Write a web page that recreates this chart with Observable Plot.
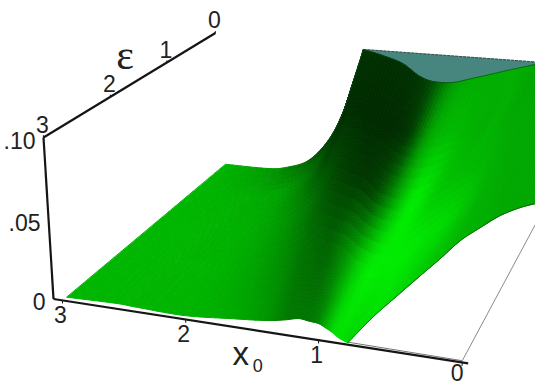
<!DOCTYPE html>
<html>
<head>
<meta charset="utf-8">
<style>html,body{margin:0;padding:0;background:#fff}svg{display:block}</style>
<script src="https://cdn.jsdelivr.net/npm/d3@7"></script>
<script src="https://cdn.jsdelivr.net/npm/@observablehq/plot@0.6"></script>
</head>
<body>
<div id="chart"></div>
<script>
// Tick values
const x0Ticks = [3, 2, 1, 0];
const epsTicks = [3, 2, 1, 0];
const zTicks = [0.10, 0.05, 0];
const zTickLabels = [".10", ".05", "0"];

// Upper boundary of the surface: eps = 0 edge, then the contour where it reaches the cap
const upperX0 = [3, 2.58, 2.40, 2.18, 1.99, 1.856, 1.756, 1.667, 1.45, 1.216, .992, .84, .68, .555, .393, .31, .23, .154, .12, .08, .05, .03, .01];
const upperEps = [0, 0, 0, 0, 0, 0, 0, 0, .14, .331, .635, .766, .752, .60, .382, .27, .17, .075, .05, .02, 0, 0, 0];
const upperH = [0, .0003, .0026, .0098, .0266, .0478, .0727, .0957, .0957, .0957, .0957, .0957, .0957, .0957, .0957, .0957, .0957, .0957, .0957, .0957, .0957, .0957, .0957];

// Lower boundary: eps = 3 edge, then the contour where the surface reaches zero
const lowerX0 = [2.96, 2.545, 2.4, 2.017, 1.655, 1.39, 1.25, 1.145, 1.07, 1.0, .95, .90, .85, .79, .752, .688, .622, .56, .498, .409, .311, .19, .055];
const lowerEps = [3, 3, 3, 3, 3, 3, 3, 3, 3, 3, 3, 3, 3, 3, 2.547, 2.174, 1.794, 1.451, 1.07, .766, .47, .25, .09];
const lowerH = [.0025, .0034, .003, .0023, .0048, .0069, .009, .0111, .0105, .0099, .008, .0058, .003, .0012, 0, 0, 0, 0, 0, 0, 0, 0, 0];

// Green level read along each section, from the upper boundary to the lower one
const shade0 = [182, 155, 135, 100, 60, 50, 48, 50, 48, 48, 52, 75, 150, 172, 172, 175, 172, 165, 165, 165, 168, 168, 168];
const shade1 = [182, 176, 172, 160, 120, 70, 50, 45, 42, 42, 45, 65, 160, 185, 178, 172, 176, 168, 168, 168, 168, 168, 168];
const shade2 = [182, 182, 178, 172, 150, 120, 95, 72, 60, 55, 70, 115, 185, 235, 198, 188, 182, 178, 172, 168, 168, 168, 168];
const shade3 = [182, 182, 180, 178, 160, 135, 115, 105, 100, 130, 165, 205, 235, 235, 235, 225, 215, 195, 178, 172, 168, 168, 168];
const shade4 = [182, 182, 180, 180, 170, 150, 125, 120, 120, 135, 175, 215, 225, 215, 225, 215, 200, 190, 180, 175, 168, 168, 168];
const shades = [shade0, shade1, shade2, shade3, shade4];

// Sections where a boundary has a sharp corner
const upperCorner = 7, lowerCorner = 13;

// Perspective camera for the 3D box
function project(x0, eps, h) {
  const s = 3.075 - x0, t = 3 - eps, z = h / 0.1;
  const w = 1 - 0.036 * s + 0.0887 * t - 0.036 * z;
  return [
    (53 + 116.3 * s + 74.3 * t - 11.55 * z) / w,
    (298.5 + 7.6 * s - 30.7 * t - 166.4 * z) / w
  ];
}

const lerp = (a, b, f) => a + (b - a) * f;
const uSteps = 6, vSteps = 24;

// Smooth curve through the boundary readings; a corner keeps its one-sided slopes
function smooth(arr, k, f, corner) {
  const n = arr.length - 1;
  const outSlope = k === 0 || k === corner ? arr[k + 1] - arr[k] : (arr[k + 1] - arr[k - 1]) / 2;
  const inSlope = k + 1 === n || k + 1 === corner ? arr[k + 1] - arr[k] : (arr[k + 2] - arr[k]) / 2;
  const f2 = f * f, f3 = f2 * f;
  return (2 * f3 - 3 * f2 + 1) * arr[k] + (f3 - 2 * f2 + f) * outSlope + (3 * f2 - 2 * f3) * arr[k + 1] + (f3 - f2) * inSlope;
}
function surfacePoint(k, fu, fv) {
  const x = lerp(smooth(upperX0, k, fu, upperCorner), smooth(lowerX0, k, fu, lowerCorner), fv);
  const e = lerp(smooth(upperEps, k, fu, upperCorner), smooth(lowerEps, k, fu, lowerCorner), fv);
  const h = lerp(smooth(upperH, k, fu, upperCorner), smooth(lowerH, k, fu, lowerCorner), fv);
  return project(x, e, h);
}
function shadeAt(k, fu, fv) {
  const r = fv * (shades.length - 1), i = Math.min(shades.length - 2, Math.floor(r)), f = r - i;
  const a = smooth(shades[i], k, fu, -1), b = smooth(shades[i + 1], k, fu, -1);
  return Math.max(40, Math.min(245, lerp(a, b, f)));
}

const cells = [];
for (let k = 0; k < upperX0.length - 1; k++) {
  for (let i = 0; i < uSteps; i++) {
    for (let j = 0; j < vSteps; j++) {
      const u0 = i / uSteps, u1 = (i + 1) / uSteps, v0 = j / vSteps, v1 = (j + 1) / vSteps;
      const a = surfacePoint(k, u0, v0), b = surfacePoint(k, u1, v0), c = surfacePoint(k, u1, v1), d = surfacePoint(k, u0, v1);
      const g = Math.round(shadeAt(k, (u0 + u1) / 2, (v0 + v1) / 2));
      cells.push({
        type: "Feature",
        properties: {color: `rgb(0,${g},0)`},
        geometry: {type: "Polygon", coordinates: [[a, b, c, d, a]]}
      });
    }
  }
}

const curve = (xs, es, hs, corner, from, to) => {
  const pts = [];
  for (let k = from; k < to; k++) for (let i = 0; i <= uSteps; i++) {
    const f = i / uSteps;
    pts.push(project(smooth(xs, k, f, corner), smooth(es, k, f, corner), smooth(hs, k, f, corner)));
  }
  return pts;
};

// Flat cap of the surface
const capStart = upperCorner, lastKnot = upperX0.length - 1;
const capRing = curve(upperX0, upperEps, upperH, upperCorner, capStart, lastKnot);
capRing.push(project(upperX0[lastKnot], 0, upperH[lastKnot]));
capRing.push(capRing[0]);
const cap = {type: "Feature", geometry: {type: "Polygon", coordinates: [capRing]}};

const toLine = (pts) => pts.map(([x, y]) => ({x, y}));
const backEdge = toLine([project(upperX0[capStart], 0, upperH[capStart]), project(0, 0, upperH[capStart])]);
const lowerEdge = toLine(curve(lowerX0, lowerEps, lowerH, lowerCorner, lowerCorner, lastKnot));
const upperEdge = toLine(curve(upperX0, upperEps, upperH, upperCorner, 3, lastKnot));

const xAxisLine = toLine([project(3.075, 3, 0), project(-0.04, 3, 0)]);
const zAxisLine = toLine([project(3.075, 3, 0), project(3.075, 3, 0.1)]);
const eAxisLine = toLine([project(3.075, 3, 0.1), project(3.075, 0, 0.1)]);
const floorRight = toLine([project(0, 3, 0.001), project(0, 0, 0)]);
const floorFront = toLine([project(0.79, 3, 0.0015), project(0, 3, 0.001)]);

const xTickMarks = x0Ticks.map(v => toLine([project(v, 3, 0), project(v, 3, -0.002)]));
const eTickMarks = epsTicks.map(v => toLine([project(3.075, v, 0.1), project(3.075, v, 0.1014)]));

const at = (p, text) => ({x: p[0], y: p[1], text});
const xLabels = x0Ticks.slice(0, 3).map(v => at(project(v, 3, 0), String(v)));
const xLastLabel = x0Ticks.slice(3).map(v => at(project(v, 3, 0), String(v)));
const eLabels = epsTicks.map(v => at(project(3.075, v, 0.1), String(v)));
const zLabels = zTicks.map((v, i) => at(project(3.075, 3, v), zTickLabels[i]));
const tickFont = {fontFamily: "Liberation Sans", fontSize: 23, fill: "#222"};

const lineOpts = (stroke, strokeWidth) => ({x: "x", y: "y", stroke, strokeWidth, strokeLinecap: "butt"});

const plot = Plot.plot({
  width: 535,
  height: 385,
  margin: 0,
  projection: d3.geoIdentity(),
  color: {type: "identity"},
  style: {background: "#fff"},
  marks: [
    Plot.line(floorRight, lineOpts("#8a8a8a", 1)),
    Plot.line(floorFront, lineOpts("#777", 1)),
    Plot.geo([cap], {fill: "#47857f", stroke: "#47857f", strokeWidth: 0.5}),
    Plot.geo(cells, {fill: d => d.properties.color, stroke: d => d.properties.color, strokeWidth: 1, imageFilter: "blur(0.5px)"}),
    Plot.line(backEdge, {...lineOpts("#3c4a48", 1), strokeDasharray: "3,1"}),
    Plot.line(lowerEdge, lineOpts("#0a5a0a", 0.8)),
    Plot.line(upperEdge, lineOpts("#0d4a1a", 0.7)),
    Plot.line(xAxisLine, lineOpts("#151515", 2.2)),
    Plot.line(zAxisLine, lineOpts("#151515", 2.2)),
    Plot.line(eAxisLine, lineOpts("#151515", 2.2)),
    ...xTickMarks.map(t => Plot.line(t, lineOpts("#151515", 1))),
    ...eTickMarks.map(t => Plot.line(t, lineOpts("#151515", 1))),
    Plot.text(xLabels, {x: "x", y: "y", text: "text", ...tickFont, dx: -2, dy: 15}),
    Plot.text(xLastLabel, {x: "x", y: "y", text: "text", ...tickFont, dx: -5, dy: 11}),
    Plot.text(eLabels, {x: "x", y: "y", text: "text", ...tickFont, dx: -1, dy: -12}),
    Plot.text(zLabels, {x: "x", y: "y", text: "text", ...tickFont, textAnchor: "end", dx: -8, dy: 4}),
    Plot.text([at(project(3.075, 1.6, 0.1), "ε")], {x: "x", y: "y", text: "text", fontFamily: "Liberation Serif", fontSize: 42, fill: "#222", dx: -9, dy: -27}),
    Plot.text([at(project(1.5, 3, 0), "x")], {x: "x", y: "y", text: "text", fontFamily: "Liberation Sans", fontSize: 33, fill: "#222", dx: -10, dy: 25}),
    Plot.text([at(project(1.5, 3, 0), "0")], {x: "x", y: "y", text: "text", fontFamily: "Liberation Sans", fontSize: 18, fill: "#222", dx: 7, dy: 37})
  ]
});
document.getElementById("chart").append(plot);
</script>
</body>
</html>
